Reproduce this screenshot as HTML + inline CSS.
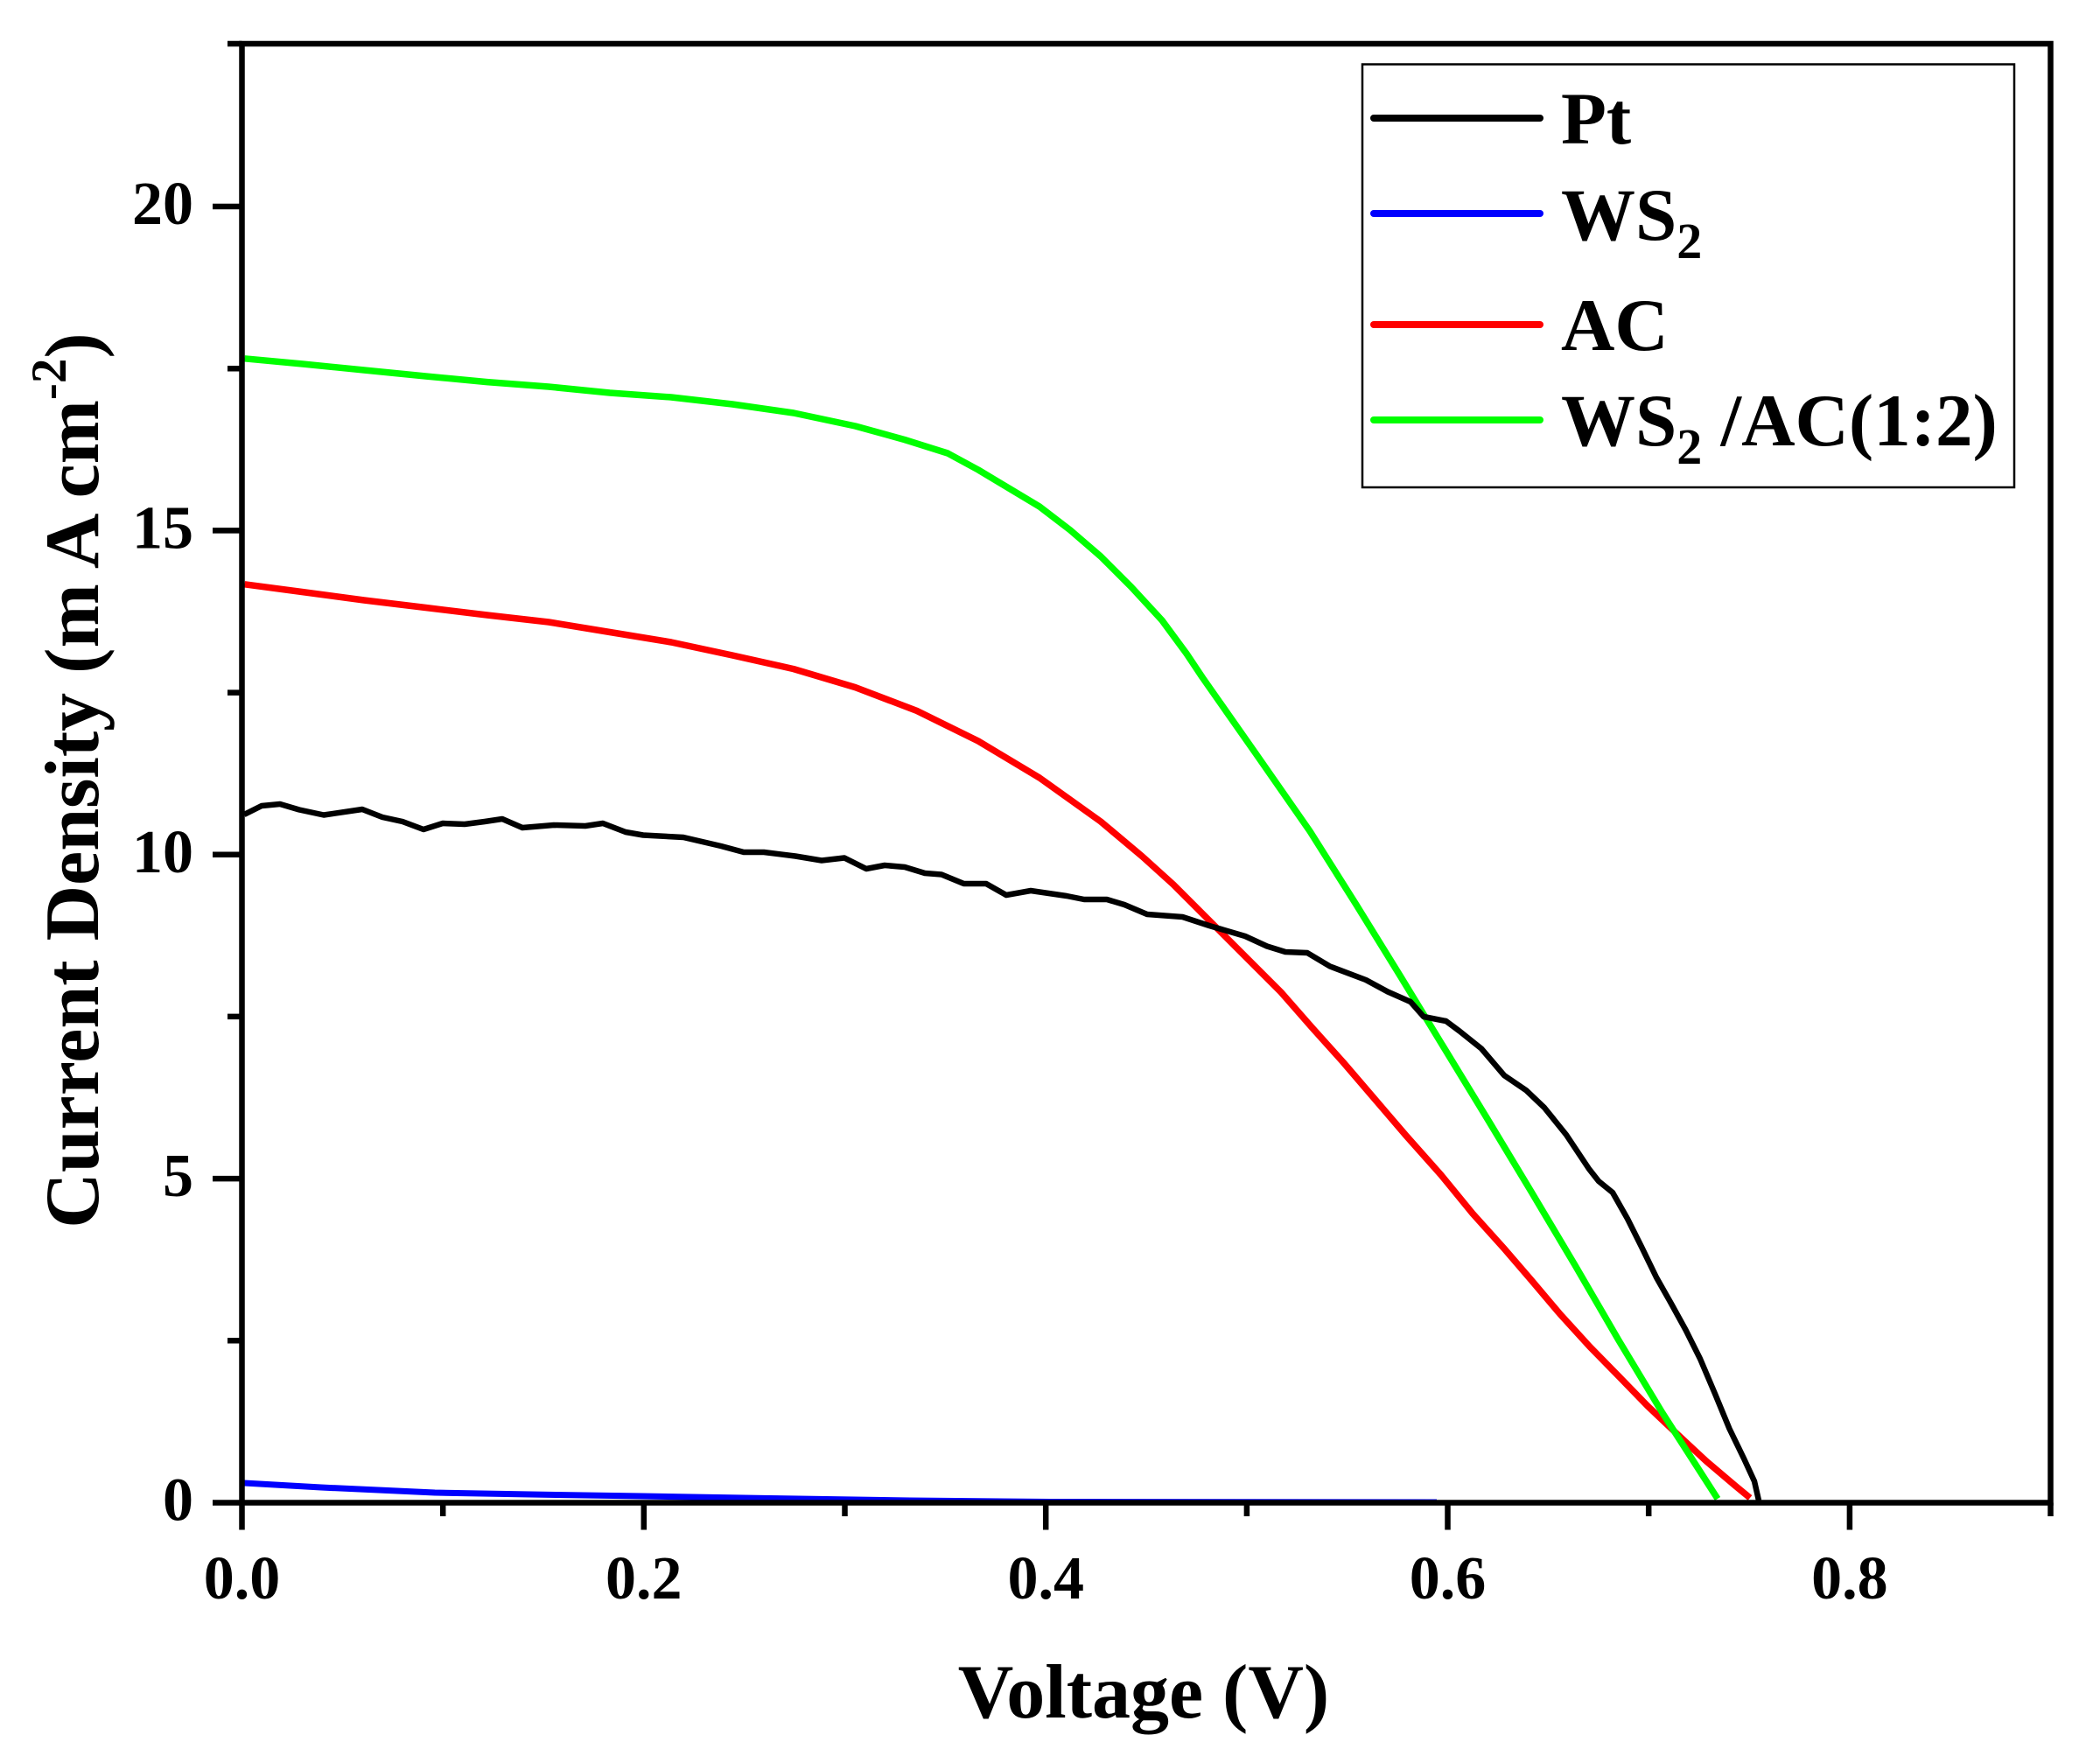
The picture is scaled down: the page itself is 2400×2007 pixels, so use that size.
<!DOCTYPE html>
<html>
<head>
<meta charset="utf-8">
<style>
  html, body { margin: 0; padding: 0; background: #ffffff; }
  svg { display: block; }
  text { font-family: "Liberation Serif", "Times New Roman", serif; font-weight: bold; fill: #000; white-space: pre; }
</style>
</head>
<body>
<svg width="2400" height="2007" viewBox="0 0 2400 2007" xmlns="http://www.w3.org/2000/svg">
  <rect x="0" y="0" width="2400" height="2007" fill="#ffffff"/>

  <!-- WS2 (blue) -->
  <polyline fill="none" stroke="#0000ff" stroke-width="7" stroke-linejoin="round"
    points="279,1695 367,1700 497,1706 635,1708.5 734,1710 880,1712.5 1040,1715 1200,1716.5 1642,1717"/>

  <!-- AC (red) -->
  <polyline fill="none" stroke="#ff0000" stroke-width="7.5" stroke-linejoin="round"
    points="279.5,667.8 346,676.6 416,686 486.5,694.5 556.6,703 627,711 697,722.5 767,734 837,749 907,764.6 977.5,785.6 1047.7,812.4 1118,847 1188,889 1258,939 1305.6,979 1341,1011 1382,1052 1423,1093 1464,1134 1499.5,1174.5 1535,1214 1571,1256 1607,1298 1647,1343 1683,1387 1719,1427 1750,1463 1783,1502 1816.7,1539 1850,1573 1883,1607 1916.7,1639 1950,1670 1983,1698 2000,1712"/>

  <!-- WS2/AC (green) -->
  <polyline fill="none" stroke="#00ff00" stroke-width="7.5" stroke-linejoin="round"
    points="279.5,409.8 346,416 416,423 486.5,430 556.6,436.6 627,442 697,449 767,454 837,462 907,472 977.5,487 1033.6,502.5 1083,518 1118,537 1153,558 1188,579 1223,605.8 1258,636 1293,671 1328,709 1356,747 1374,774 1435,861 1497,950 1550,1034 1600,1115 1650,1197 1700,1279 1750,1362 1800,1446 1850,1532 1900,1615 1963,1713"/>

  <!-- Pt (black) -->
  <polyline fill="none" stroke="#000000" stroke-width="6.5" stroke-linejoin="round"
    points="279,931 299,921 320,919 342,925.5 370,931.5 414,925 437,934 460,939 484,948 506,941 531,942 554,939 574,936 597,946 633,943 669,944 689,941 715,951 735,954.5 781,957 824,967 850,974 873,974 909,978.5 939,983.5 965,980.5 990,993 1011,989 1034,991 1057,998 1076,999.5 1101.5,1010 1127,1010 1150,1023 1178,1018 1219,1024 1239,1028 1265,1028 1285,1034 1311,1045 1351.5,1048 1382,1058 1423,1070 1448,1081.5 1469,1088 1494,1089 1520,1104.5 1561,1120 1586,1133.5 1612,1145 1627,1162 1652.5,1167 1668,1178.5 1693,1198.5 1719,1229 1744,1246 1765,1266 1790,1297 1816,1336 1827,1350 1843,1363 1860,1393 1876,1425 1893,1460 1910,1490 1926.5,1520 1943,1553 1960,1593 1976.5,1633 1993,1667 2005,1693 2010,1715"/>

  <!-- Frame -->
  <rect x="276.5" y="50" width="2067" height="1667.5" fill="none" stroke="#000" stroke-width="6.5"/>

  <!-- X ticks (outward, down) -->
  <g stroke="#000" stroke-width="6.5" stroke-linecap="butt">
    <line x1="276.5" y1="1717.5" x2="276.5" y2="1748.5"/>
    <line x1="506.2" y1="1717.5" x2="506.2" y2="1733"/>
    <line x1="735.8" y1="1717.5" x2="735.8" y2="1748.5"/>
    <line x1="965.5" y1="1717.5" x2="965.5" y2="1733"/>
    <line x1="1195.2" y1="1717.5" x2="1195.2" y2="1748.5"/>
    <line x1="1424.9" y1="1717.5" x2="1424.9" y2="1733"/>
    <line x1="1654.5" y1="1717.5" x2="1654.5" y2="1748.5"/>
    <line x1="1884.2" y1="1717.5" x2="1884.2" y2="1733"/>
    <line x1="2113.9" y1="1717.5" x2="2113.9" y2="1748.5"/>
    <line x1="2343.5" y1="1717.5" x2="2343.5" y2="1733"/>
  </g>

  <!-- Y ticks (outward, left) -->
  <g stroke="#000" stroke-width="6.5" stroke-linecap="butt">
    <line x1="276.5" y1="1717.5" x2="243" y2="1717.5"/>
    <line x1="276.5" y1="1532.3" x2="260" y2="1532.3"/>
    <line x1="276.5" y1="1347.1" x2="243" y2="1347.1"/>
    <line x1="276.5" y1="1161.9" x2="260" y2="1161.9"/>
    <line x1="276.5" y1="976.8" x2="243" y2="976.8"/>
    <line x1="276.5" y1="791.6" x2="260" y2="791.6"/>
    <line x1="276.5" y1="606.4" x2="243" y2="606.4"/>
    <line x1="276.5" y1="421.2" x2="260" y2="421.2"/>
    <line x1="276.5" y1="236" x2="243" y2="236"/>
    <line x1="276.5" y1="50" x2="260" y2="50"/>
  </g>

  <!-- X tick labels -->
  <g font-size="70" text-anchor="middle">
    <text x="276.5" y="1827">0.0</text>
    <text x="735.8" y="1827">0.2</text>
    <text x="1195.2" y="1827">0.4</text>
    <text x="1654.5" y="1827">0.6</text>
    <text x="2113.9" y="1827">0.8</text>
  </g>

  <!-- Y tick labels -->
  <g font-size="70" text-anchor="end">
    <text x="221" y="1737.5">0</text>
    <text x="221" y="1367">5</text>
    <text x="221" y="997">10</text>
    <text x="221" y="626.5">15</text>
    <text x="221" y="256">20</text>
  </g>

  <!-- Axis titles -->
  <text x="1307" y="1963" font-size="88" text-anchor="middle">Voltage (V)</text>
  <text transform="translate(112,892) rotate(-90)" font-size="88" text-anchor="middle">Current Density (m A cm<tspan dy="-37" font-size="57">-2</tspan><tspan dy="37">)</tspan></text>

  <!-- Legend -->
  <rect x="1557" y="73.5" width="745" height="483.5" fill="#ffffff" stroke="#000" stroke-width="2.5"/>
  <g stroke-width="8" stroke-linecap="round">
    <line x1="1570" y1="135" x2="1760" y2="135" stroke="#000000"/>
    <line x1="1570" y1="244" x2="1760" y2="244" stroke="#0000ff"/>
    <line x1="1570" y1="371" x2="1760" y2="371" stroke="#ff0000"/>
    <line x1="1570" y1="480" x2="1760" y2="480" stroke="#00ff00"/>
  </g>
  <g font-size="85">
    <text x="1784" y="164">Pt</text>
    <text x="1784" y="274">WS<tspan font-size="58" dy="21">2</tspan></text>
    <text x="1784" y="400">AC</text>
    <text x="1784" y="509">WS<tspan font-size="58" dy="21">2</tspan><tspan dy="-21"> /AC(1:2)</tspan></text>
  </g>
</svg>
</body>
</html>
